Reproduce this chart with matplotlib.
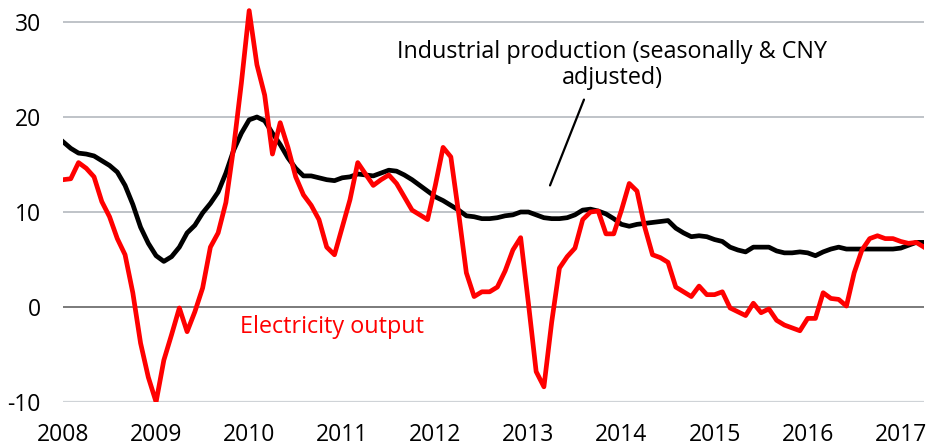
import matplotlib
matplotlib.use("Agg")
import matplotlib.pyplot as plt
import numpy as np

years = ['2008', '2009', '2010', '2011', '2012', '2013', '2014', '2015', '2016', '2017']
yticks = [-10, 0, 10, 20, 30]

# Monthly, Jan 2008 - Apr 2017, % y/y
electricity = [
    13.4, 13.5, 15.2, 14.6, 13.7, 11.1, 9.5, 7.2, 5.5, 1.5, -3.8, -7.4,
    -10.0, -5.6, -2.9, -0.1, -2.6, -0.5, 2.0, 6.3, 7.8, 11.0, 16.8, 23.6,
    31.2, 25.5, 22.3, 16.1, 19.4, 16.8, 13.7, 11.8, 10.7, 9.2, 6.3, 5.5,
    8.4, 11.3, 15.2, 14.0, 12.8, 13.4, 13.9, 13.0, 11.6, 10.2, 9.7, 9.2,
    12.8, 16.8, 15.8, 9.9, 3.6, 1.1, 1.6, 1.6, 2.1, 3.8, 6.0, 7.3,
    0.4, -6.8, -8.4, -1.6, 4.1, 5.3, 6.2, 9.2, 10.0, 10.1, 7.7, 7.7,
    10.2, 13.0, 12.2, 8.4, 5.5, 5.2, 4.7, 2.1, 1.6, 1.1, 2.2, 1.3,
    1.3, 1.6, -0.1, -0.5, -0.9, 0.4, -0.6, -0.2, -1.4, -1.9, -2.2, -2.5,
    -1.2, -1.2, 1.5, 0.9, 0.8, 0.1, 3.6, 6.0, 7.2, 7.5, 7.2, 7.2,
    6.9, 6.7, 6.8, 6.3,
]

industrial = [
    17.4, 16.7, 16.2, 16.1, 15.9, 15.4, 14.9, 14.2, 12.8, 10.8, 8.4, 6.7,
    5.4, 4.8, 5.3, 6.3, 7.8, 8.6, 9.9, 10.9, 12.1, 14.1, 16.5, 18.3,
    19.7, 20.0, 19.6, 18.3, 17.1, 15.7, 14.6, 13.8, 13.8, 13.6, 13.4, 13.3,
    13.6, 13.7, 14.0, 13.9, 13.8, 14.1, 14.4, 14.3, 13.9, 13.4, 12.8, 12.2,
    11.6, 11.2, 10.7, 10.2, 9.6, 9.5, 9.3, 9.3, 9.4, 9.6, 9.7, 10.0,
    10.0, 9.7, 9.4, 9.3, 9.3, 9.4, 9.7, 10.2, 10.3, 10.1, 9.8, 9.3,
    8.7, 8.5, 8.7, 8.8, 8.9, 9.0, 9.1, 8.3, 7.8, 7.4, 7.5, 7.4,
    7.1, 6.9, 6.3, 6.0, 5.8, 6.3, 6.3, 6.3, 5.9, 5.7, 5.7, 5.8,
    5.7, 5.4, 5.8, 6.1, 6.3, 6.1, 6.1, 6.1, 6.1, 6.1, 6.1, 6.1,
    6.2, 6.5, 6.8, 6.8,
]

FONT = "Open Sans"
FS_TICK = 16.5
FS_TEXT = 16.8

fig = plt.figure(figsize=(9.28, 4.45), dpi=100)
ax = fig.add_axes([63/928, 43/445, (924-63)/928, (402-3)/445])

x = np.arange(len(electricity))

for v in yticks:
    if v == 0:
        ax.axhline(v, color="#7a7a7a", lw=1.4, zorder=1)
    elif v == -10:
        ax.axhline(v, color="#cfd3d7", lw=1.6, zorder=1)
    else:
        ax.axhline(v, color="#adb3b9", lw=1.1, zorder=1)

ax.plot(x, industrial, color="black", lw=3.4, zorder=3, solid_joinstyle="round")
ax.plot(x, electricity, color="#ff0000", lw=3.4, zorder=4, solid_joinstyle="round")

ax.set_xlim(0, 111)
ax.set_ylim(-10, 32)
ax.set_yticks(yticks)
ax.set_yticklabels([str(v) for v in yticks], fontsize=FS_TICK, family=FONT)
ax.set_xticks(np.arange(len(years)) * 12)
ax.set_xticklabels(years, fontsize=FS_TICK, family=FONT)
ax.tick_params(axis="both", length=0)
ax.tick_params(axis="y", pad=16)
ax.tick_params(axis="x", pad=15)
for s in ax.spines.values():
    s.set_visible(False)

ax.annotate("Electricity output", xy=(332/928, 1 - 327/445), xycoords="figure fraction",
            color="#ff0000", fontsize=FS_TEXT, family=FONT, ha="center", va="center")
ax.annotate("Industrial production (seasonally & CNY\nadjusted)",
            xy=(612/928, 1 - 65/445), xycoords="figure fraction",
            color="black", fontsize=FS_TEXT, family=FONT, ha="center", va="center",
            linespacing=1.15)
ax.annotate("", xy=(549/928, 1 - 188/445), xytext=(585/928, 1 - 97/445),
            xycoords="figure fraction", textcoords="figure fraction",
            arrowprops=dict(arrowstyle="-", color="black", lw=1.6))

fig.savefig("out.png", dpi=100)
